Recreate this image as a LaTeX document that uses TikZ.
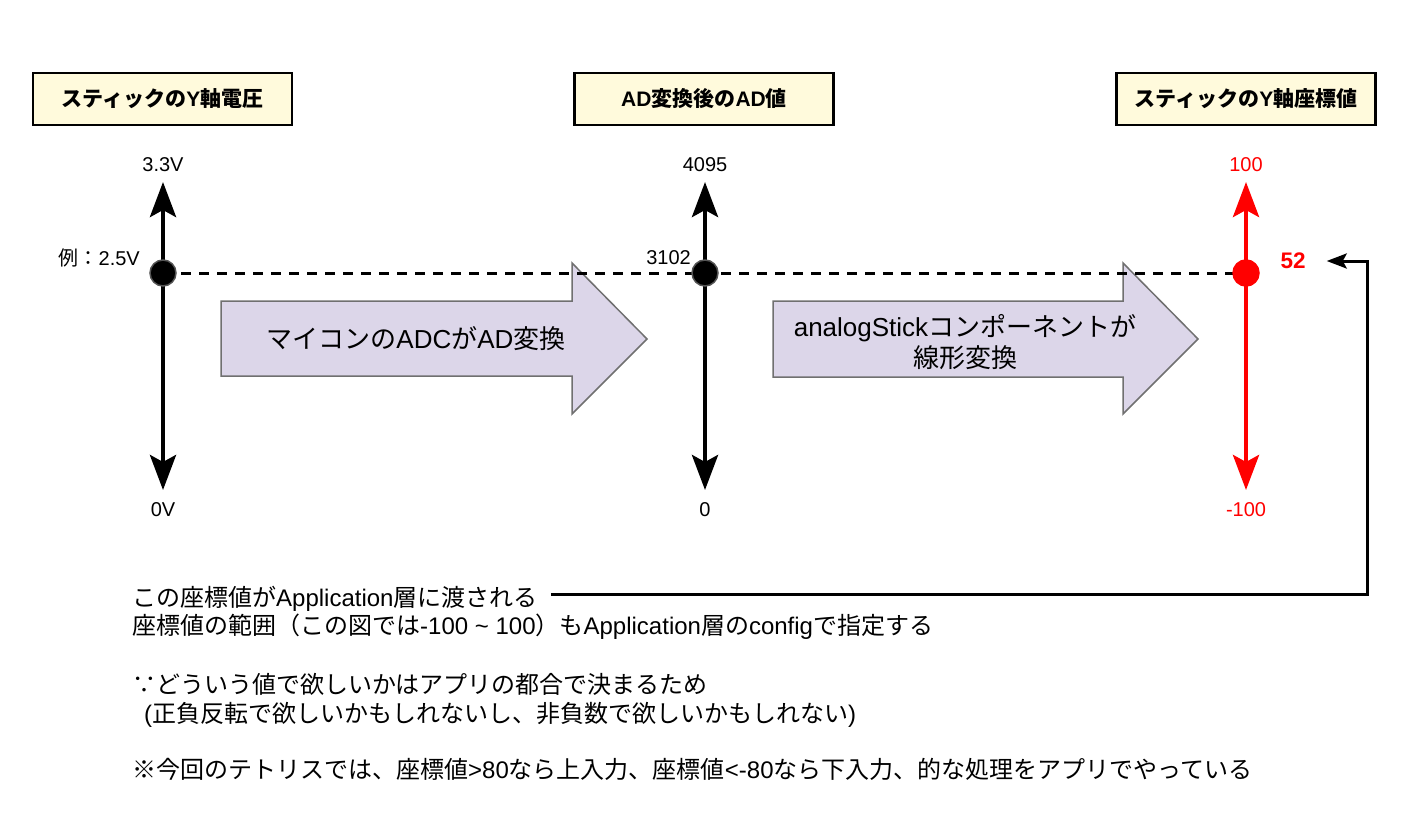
\documentclass[tikz,border=0pt]{standalone}
\usepackage{fontspec}
\setmainfont{Noto Sans CJK JP}
\newfontfamily\latfont{Liberation Sans}
\newcommand\lat[1]{{\latfont #1}}
\usetikzlibrary{arrows.meta,positioning}
\definecolor{hdrfill}{HTML}{FFFADC}
\definecolor{flowfill}{HTML}{DCD6E9}
\definecolor{flowedge}{HTML}{707070}
\definecolor{dotedge}{HTML}{555555}
\definecolor{stickred}{HTML}{FF0000}

\begin{document}
\begin{tikzpicture}[
x=1pt, y=-1pt,
hdr/.style={draw, line width=2.5pt, fill=hdrfill, minimum width=259pt, minimum height=52pt,
  font=\fontsize{21}{25}\selectfont\bfseries},
axis/.style={line width=4.5pt,
  {Stealth[length=35pt,width=26pt,inset=7pt]}-{Stealth[length=35pt,width=26pt,inset=7pt]}},
axlabel/.style={inner sep=0pt, font=\latfont\fontsize{20}{24}\selectfont},
dot/.style={circle, fill=black, draw=dotedge, line width=1.5pt, minimum size=26pt, inner sep=0pt},
valueline/.style={dash pattern=on 10pt off 8pt, line width=3pt},
flow/.style={fill=flowfill, draw=flowedge, line width=1.5pt},
flowtext/.style={align=center, inner sep=0pt, font=\fontsize{26}{31}\selectfont},
note/.style={anchor=base west, inner sep=0pt, font=\fontsize{24}{29}\selectfont},
feedback/.style={line width=3pt, -{Stealth[length=20pt,width=15pt,inset=4pt]}}
]
\useasboundingbox (0,0) rectangle (1423,821);

% headers
\node[hdr] (volt) at (162.5,99) {スティックの\lat{Y}軸電圧};
\node[hdr] (adval) at (704,99) {\lat{AD}変換後の\lat{AD}値};
\node[hdr] (coord) at (1246,99) {スティックの\lat{Y}軸座標値};

% conversion arrows
\draw[flow] (221,301) -- (572,301) -- (572,263) -- (647,339) -- (572,414) -- (572,376) -- (221,376) -- cycle;
\draw[flow] (773,301) -- (1123,301) -- (1123,263) -- (1198,339) -- (1123,414) -- (1123,377) -- (773,377) -- cycle;
\node[flowtext] (adc) at (416,339) {マイコンの\lat{ADC}が\lat{AD}変換};
\node[flowtext] (linear) at (965,342) {\lat{analogStick}コンポーネントが\\線形変換};

% axes
\coordinate (vhi) at (163,182);
\coordinate (vlo) at (163,490);
\coordinate (ahi) at (705,182);
\coordinate (alo) at (705,490);
\coordinate (yhi) at (1246,182);
\coordinate (ylo) at (1246,490);
\draw[axis] (vlo) -- (vhi);
\draw[axis] (alo) -- (ahi);
\draw[axis, stickred] (ylo) -- (yhi);

\node[axlabel] (vmax) at (163,165) {3.3V};
\node[axlabel] (vmin) at (163,510) {0V};
\node[axlabel] (amax) at (705,165) {4095};
\node[axlabel] (amin) at (705,510) {0};
\node[axlabel, text=stickred] (ymax) at (1246,165) {100};
\node[axlabel, text=stickred] (ymin) at (1246,510) {-100};

% example value
\coordinate (vmark) at (163,273);
\coordinate (amark) at (705,273);
\coordinate (ymark) at (1246,273);
\draw[valueline] (vmark) -- (ymark);
\node[dot] (vdot) at (vmark) {};
\node[dot] (adot) at (amark) {};
\node[dot, fill=stickred, draw=stickred] (ydot) at (ymark) {};

\node[axlabel, anchor=east] (vex) at (140,258) {{\rmfamily 例：}2.5V};
\node[axlabel, anchor=east] (aex) at (691,258) {3102};
\node[axlabel, text=stickred, font=\latfont\bfseries\fontsize{22.5}{26}\selectfont] (yval) at (1293,261) {52};

% notes
\node[note] (pass) at (132,606) {この座標値が\lat{Application}層に渡される};
\node[note] (range) at (132,634) {座標値の範囲（この図では\lat{-100 \textasciitilde{} 100}）も\lat{Application}層の\lat{config}で指定する};
\node[note] (reason) at (132,693) {∵どういう値で欲しいかはアプリの都合で決まるため};
\node[note] (reasonsub) at (132,722) {\hspace*{12pt}\lat{(}正負反転で欲しいかもしれないし、非負数で欲しいかもしれない\lat{)}};
\node[note] (tetris) at (132,778) {※今回のテトリスでは、座標値\lat{>80}なら上入力、座標値\lat{<-80}なら下入力、的な処理をアプリでやっている};

\coordinate (turn) at (1367,594);
\draw[feedback, shorten <=13pt, shorten >=21pt] (pass.east |- turn) -- (turn) |- (yval);
\end{tikzpicture}
\end{document}
